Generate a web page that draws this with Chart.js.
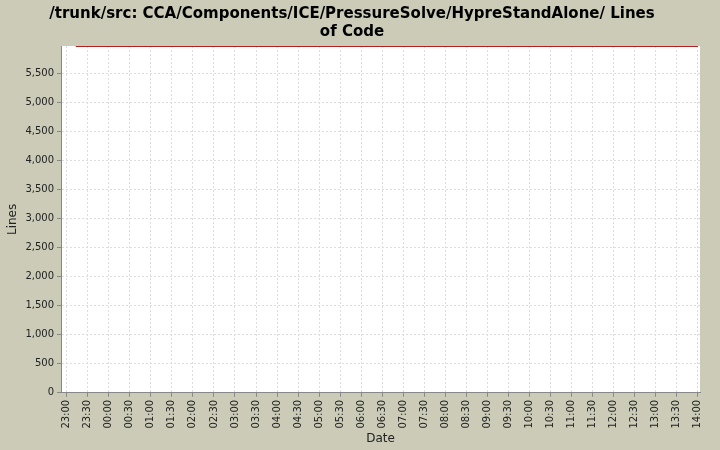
<!DOCTYPE html><html><head><script src="https://cdn.jsdelivr.net/npm/chart.js@4"></script>
<style>body{margin:0;background:#cbcbb8}canvas{display:block}</style></head><body>
<div style="width:720px;height:450px"><canvas id="c"></canvas></div>
<script>
const minutes=[13,900];
const lines=[5975,5975];
const tickLabels=['23:00','23:30','00:00','00:30','01:00','01:30','02:00','02:30','03:00','03:30','04:00','04:30','05:00','05:30','06:00','06:30','07:00','07:30','08:00','08:30','09:00','09:30','10:00','10:30','11:00','11:30','12:00','12:30','13:00','13:30','14:00'];
const bg={id:'bg',beforeDraw(c){const a=c.chartArea,x=c.ctx;x.save();x.fillStyle='#fff';x.fillRect(a.left,a.top,a.right-a.left,a.bottom-a.top);x.restore();}};
Chart.defaults.font.family='DejaVu Sans';Chart.defaults.color='#333';
new Chart(document.getElementById('c'),{type:'line',plugins:[bg],
data:{datasets:[{data:minutes.map((m,i)=>({x:m,y:lines[i]})),borderColor:'#b02020',borderWidth:1.5,pointRadius:0}]},
options:{responsive:true,maintainAspectRatio:false,animation:false,
layout:{padding:{left:4,right:20,top:1,bottom:4}},
plugins:{legend:{display:false},title:{display:true,text:['/trunk/src: CCA/Components/ICE/PressureSolve/HypreStandAlone/ Lines','of Code'],font:{size:15,weight:'bold'},color:'#000',padding:{top:4,bottom:5}}},
scales:{x:{type:'linear',min:-8,max:903,afterBuildTicks(s){s.ticks=tickLabels.map((t,i)=>({value:i*30}));},
ticks:{autoSkip:false,maxRotation:90,minRotation:90,font:{size:10},color:'#222',callback:(v)=>tickLabels[Math.round(v/30)]},
grid:{color:'#ddd',tickLength:4,tickColor:'#888'},border:{color:'#888',dash:[2,2]},title:{display:true,text:'Date',font:{size:12},color:'#222',padding:0}},
y:{min:0,max:5980,afterBuildTicks(s){s.ticks=[];for(let v=0;v<=5500;v+=500)s.ticks.push({value:v});},
ticks:{font:{size:10},color:'#222',callback:v=>v.toLocaleString('en-US')},
grid:{color:'#ddd',tickLength:4,tickColor:'#888'},border:{color:'#888',dash:[2,2]},title:{display:true,text:'Lines',font:{size:12},color:'#222',padding:2}}}}});
</script></body></html>
